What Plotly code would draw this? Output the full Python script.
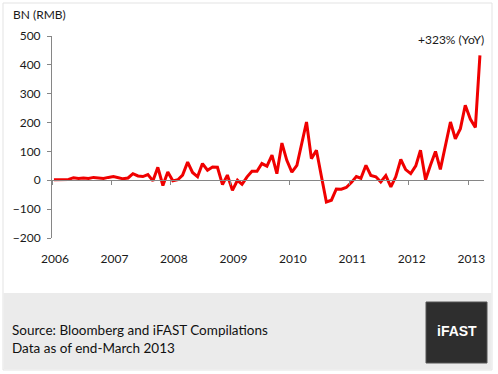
import pandas as pd
import plotly.graph_objects as go

# ---- data (monthly, Jan 2006 .. Mar 2013), BN RMB ----
start_month = "2006-01-01"
values = [
    2, 2, 2, 3, 9, 6, 8, 6, 10, 7, 6, 10,            # 2006
    13, 9, 5, 8, 23, 15, 13, 20, -2, 45, -18, 29,     # 2007
    -2, 2, 18, 63, 27, 12, 58, 35, 46, 45, -15, 18,   # 2008
    -35, 0, -14, 12, 31, 31, 58, 49, 87, 23, 129, 69, # 2009
    28, 52, 127, 202, 75, 104, 15, -75, -69, -30, -31, -25,  # 2010
    -8, 13, 7, 52, 17, 12, -6, 16, -23, 12, 72, 37,   # 2011
    23, 50, 104, 2, 52, 100, 38, 120, 202, 144, 179, 260,    # 2012
    212, 183, 433,                                    # 2013
]
year_ticks = ["2006", "2007", "2008", "2009", "2010", "2011", "2012", "2013"]
y_ticks = [-200, -100, 0, 100, 200, 300, 400, 500]
unit_label = "BN (RMB)"
last_label = "+323% (YoY)"
footer_lines = ["Source: Bloomberg and iFAST Compilations", "Data as of end-March 2013"]
logo_text = "iFAST"

dates = pd.date_range(start_month, periods=len(values), freq="MS") + pd.Timedelta(days=12)

W, H = 498, 374
L, R, T, B = 52, 484, 36, 238  # plot area in px


def px(x):
    return (x - L) / (R - L)


def py(y):
    return (B - y) / (B - T)


FONT = "Lato, 'Open Sans', sans-serif"
AX = "#868686"
RED = "#f00000"

fig = go.Figure()
fig.add_trace(go.Scatter(x=dates, y=values, mode="lines",
                         line=dict(color=RED, width=3), showlegend=False,
                         hoverinfo="x+y"))
# invisible copy to carry the zero-line axis
fig.add_trace(go.Scatter(x=dates, y=values, mode="lines", xaxis="x2",
                         line=dict(color="rgba(0,0,0,0)", width=0),
                         showlegend=False, hoverinfo="skip"))

ymin, ymax = y_ticks[0], y_ticks[-1]
zero_pos = (0 - ymin) / (ymax - ymin)
xrange = ["2006-01-01", "2013-04-07"]

fig.update_layout(
    width=W, height=H,
    margin=dict(l=L, r=W - R, t=T, b=H - B, pad=0),
    paper_bgcolor="white", plot_bgcolor="white",
    font=dict(family=FONT, size=12, color="#1a1a1a"),
    xaxis=dict(type="date", range=xrange,
               tickvals=[f"{y}-01-01" for y in year_ticks], ticktext=year_ticks,
               showline=False, showgrid=False, zeroline=False, ticks="",
               ticklabelshift=3, ticklabelstandoff=12,
               tickfont=dict(family=FONT, size=12, color="#1a1a1a")),
    xaxis2=dict(type="date", range=xrange, overlaying="x", anchor="free",
                position=zero_pos, side="bottom", matches="x",
                tickvals=[f"{y}-01-01" for y in year_ticks],
                showticklabels=False, showline=True, linecolor=AX, linewidth=1,
                ticks="outside", ticklen=4, tickcolor=AX, tickwidth=1,
                showgrid=False, zeroline=False),
    yaxis=dict(range=[ymin, ymax], tickvals=y_ticks, showline=True,
               linecolor=AX, linewidth=1, ticks="outside", ticklen=4,
               tickcolor=AX, showgrid=False, zeroline=False,
               ticklabelstandoff=4,
               tickfont=dict(family=FONT, size=12, color="#1a1a1a")),
)

shapes = [
    # outer frame
    dict(type="rect", xref="paper", yref="paper", x0=px(3), x1=px(492),
         y0=py(370), y1=py(3), line=dict(color="#e3e3e3", width=1),
         fillcolor="rgba(0,0,0,0)", layer="below"),
    # footer band
    dict(type="rect", xref="paper", yref="paper", x0=px(3.5), x1=px(491.5),
         y0=py(369.5), y1=py(293), line=dict(width=0), fillcolor="#ebebeb",
         layer="below"),
    # logo box
    dict(type="rect", xref="paper", yref="paper", x0=px(426), x1=px(487),
         y0=py(363), y1=py(302), line=dict(color="#555555", width=1),
         fillcolor="#2e2e2e", layer="above"),
]
fig.update_layout(shapes=shapes)

annotations = [
    dict(text=unit_label, xref="paper", yref="paper", x=px(11), y=py(15),
         xanchor="left", yanchor="middle", showarrow=False,
         font=dict(family=FONT, size=12, color="#1a1a1a")),
    dict(text=last_label, x=dates[-1], y=values[-1], xref="x", yref="y",
         xanchor="right", yanchor="bottom", xshift=6, yshift=6, showarrow=False,
         font=dict(family=FONT, size=12, color="#1a1a1a")),
    dict(text=footer_lines[0], xref="paper", yref="paper", x=px(10), y=py(330),
         xanchor="left", yanchor="middle", showarrow=False,
         font=dict(family=FONT, size=13.5, color="#111111")),
    dict(text=footer_lines[1], xref="paper", yref="paper", x=px(10), y=py(348),
         xanchor="left", yanchor="middle", showarrow=False,
         font=dict(family=FONT, size=13.5, color="#111111")),
    dict(text=f"<b>{logo_text}</b>", xref="paper", yref="paper", x=px(456.5),
         y=py(331), xanchor="center", yanchor="middle", showarrow=False,
         font=dict(family="'Liberation Sans', Arial, sans-serif", size=14,
                   color="white")),
]
fig.update_layout(annotations=annotations)

fig.write_html(
    "out.html",
    config={"displayModeBar": False},
    post_script="document.body.style.margin='0';document.body.style.overflow='hidden';",
)
